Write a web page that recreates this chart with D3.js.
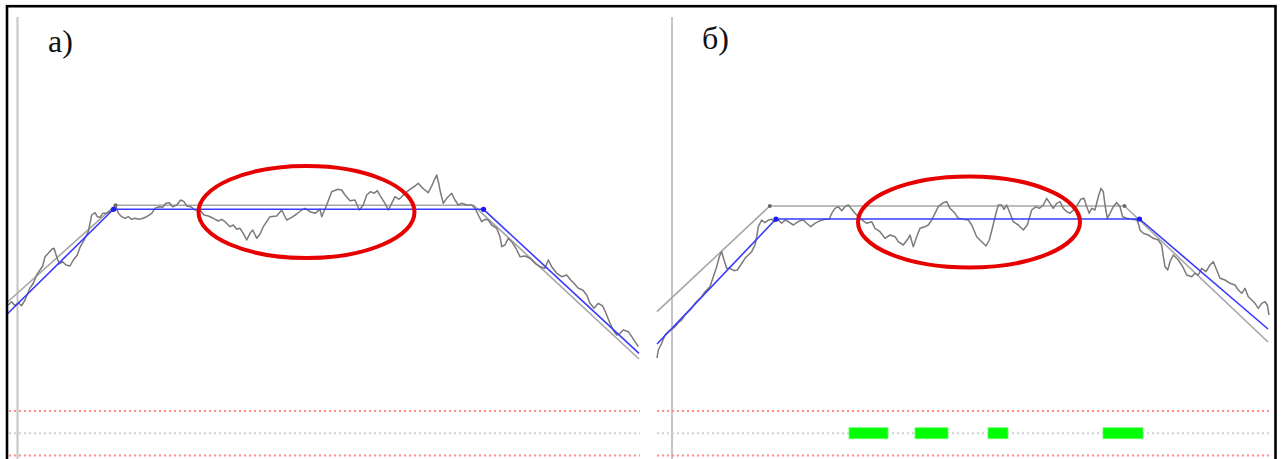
<!DOCTYPE html>
<html>
<head>
<meta charset="utf-8">
<script src="https://cdn.jsdelivr.net/npm/d3@7"></script>
<style>
  html, body { margin: 0; padding: 0; background: #fff; }
  svg { display: block; }
</style>
</head>
<body>
<svg id="chart" width="1281" height="459"></svg>
<script>
// ---- data: time (samples) and amplitude ----
const panelLabels = ["а)", "б)"];

// Panel a: measured signal
const signalA = [
  [1.3,55],[4.7,58.3],[8,54.3],[11.3,57.3],[14.7,54.3],[18,60],[23,72],[26.3,76.7],[29.7,85],[33,90],
  [35.7,94],[38,103.3],[41.3,106.7],[44.7,110.7],[47,111.7],[49.7,103.3],[52.3,96],[55.7,98.3],[59,95],[63,94],
  [66.3,100],[70.3,105],[73,112.7],[78,121.7],[81.3,128.3],[83,136.7],[84.7,145],[88,147.3],[90.3,143.3],[93,142.7],
  [95.7,146.7],[99,146.7],[102.3,148.3],[105.7,150],[109,153.3],[111.3,146.7],[114.7,143.3],[118,141.7],[121.3,143.3],[124.7,140.7],
  [128,141.7],[131.3,140.7],[134.7,141.3],[139.7,143.3],[144.7,146.7],[148,151.7],[152.3,153.3],[155.7,152.7],[159,156.7],[162.3,157.3],
  [165.7,153.3],[169.7,155],[173.7,160],[177,158.3],[179.7,154],[183.7,153.3],[188,150],[193,150],[197,145],[201.3,144],
  [206.3,141.7],[211.3,139],[214.7,140.7],[218,138.3],[223,133.3],[226.3,135],[229.7,130.7],[233,131.7],[236.3,126.7],[239.7,120],
  [243,126.7],[245.7,130],[249.7,121.7],[253,126],[256.3,133.3],[259.7,138.3],[263,143.3],[269.7,144],[274.7,150],[279.7,140],
  [284.7,142.7],[289.7,146],[294.7,150],[298,151.7],[303,148.3],[308,146.7],[313,150.7],[314.7,143.3],[319.7,155],[324.7,168.3],
  [330.7,170.7],[334.7,170],[338,165],[343,159.3],[348,160],[352.3,150],[356.3,155],[359.7,165],[363.7,168.3],[367,166.7],
  [370.3,169.3],[373.7,163.3],[378,156.7],[381.3,150],[384.7,156.7],[388,163.3],[392,160.7],[394.7,163.3],[398,166.7],[403,170.7],
  [408,174],[411.3,176.7],[414.7,172.7],[418,170],[421.3,167.3],[424.7,174],[427.3,180],[429.7,185],[431.7,176.7],[433.7,166.7],
  [436.3,156.7],[439.7,161.7],[444.7,166.7],[448,160],[451.3,155],[454.7,156.7],[459.7,155],[464.7,155],[468,151.7],[471.3,145],
  [474.7,138.3],[478,140.7],[481.3,140],[484.7,135],[489.7,131.7],[493,123.3],[494.7,113.3],[498,115],[501.3,121.7],[504.7,118.3],
  [509,111.7],[513,103.3],[518,104],[523,101.7],[528,96.7],[533,93.3],[538,91.7],[541.3,100],[544.7,93.3],[549.7,86.7],
  [554.7,83.3],[559.7,85],[563.7,80],[567,76.7],[571.3,71.7],[575.7,70],[579.7,65],[583,56.7],[587,51.7],[591.3,56.7],
  [595.7,54],[599,46.7],[603,36.7],[606.3,30],[609.7,25],[613,26.7],[616.3,30],[621.3,28.3],[624.7,23.3],[628,18.3],[631.3,13.3]
];
// Panel a: reference trapezoid and fitted trapezoid (vertices)
const idealA = [[0,57.5],[108.5,154.7],[466.5,154.7],[632,1]];
const fitA   = [[0,45.7],[106.5,150.7],[476.5,150.7],[632,6.7]];

// Panel b: measured signal
const signalB = [
  [0,2],[1.3,10],[4.7,16.7],[8,25],[11.3,28.3],[14.7,30.7],[18,33.3],[21.3,37.3],[24.7,40],[28,45],
  [31.3,48.3],[34.7,51.7],[38,56.7],[41.3,60],[44.7,63.3],[48,68.3],[53,73.3],[56.3,83.3],[59.7,93.3],[62.3,103.3],
  [64.7,108.3],[67,100],[69.7,91.7],[73,91.7],[77,89.3],[80.3,90],[83.7,95],[88,101.7],[91.3,105],[94.7,108.3],
  [98,115],[99.7,123.3],[101.3,133.3],[104.7,140],[108,137.3],[111.3,140],[114.7,140.7],[118,138.3],[121.3,140],[124.7,136.7],
  [128,140],[131.3,138.3],[136.3,135],[139.7,137.3],[143,139.3],[146.3,140],[149.7,136.7],[153.7,133.3],[158,136.7],[163,139.3],
  [168,140.7],[172.3,140.7],[174.7,146.7],[178,151.7],[181.3,153.3],[184.7,149.3],[188,153.3],[191.3,155],[198,146.7],[203,141.7],
  [209.7,136.7],[214.7,138.3],[218,131.7],[223,128.3],[228,121.7],[233,125],[238,123.3],[241.3,118.3],[246.3,115],[251.3,121.7],
  [253,125],[256.3,113.3],[259.7,123.3],[263,131.7],[268,133.3],[271.3,135],[274.7,140],[278,146.7],[281.3,153.3],[286.3,157.3],
  [289.7,158.3],[293,151.7],[298,146.7],[301.3,141.7],[306.3,140.7],[311.3,140],[314.7,135],[319.7,123.3],[324.7,118.3],[329,114],
  [332.3,120],[335.7,133.3],[339,146.7],[341.3,155],[344.7,155],[347,150.7],[349.7,155],[353,146.7],[356.3,138.3],[361.3,135],
  [366.3,130],[370.3,135],[374.7,150],[379,153.3],[382.3,151.7],[386.3,155],[389.7,161.7],[393,156.7],[396.3,151.7],[399.7,156.7],
  [403,158.3],[406.3,151.7],[409.7,148.3],[413,146.7],[416.3,150],[420.3,155],[423.7,160.7],[427,161.7],[429.7,153.3],[432.3,146.7],
  [434.7,151.7],[438,150],[441.3,163.3],[444,171.7],[446.3,168.3],[448,155],[450.3,141.7],[453,146.7],[456.3,153.3],[459.7,157.5],
  [463,153.3],[465.7,143.3],[469.7,141.7],[474.7,140.7],[479.7,140],[481.3,136.7],[483,130],[486.3,126.7],[491.3,125],[496.3,121.7],
  [501.3,120],[504.7,115],[506.3,103.3],[508,93.3],[510.7,90],[513,98.3],[516.3,105],[521.3,100],[525.7,93.3],[529.7,85],
  [534.7,83.3],[538,86.7],[541.3,85],[544.7,91.7],[549,88.3],[553,95],[556.3,98.3],[559.7,90],[563,81.7],[568,80],
  [573,76.7],[578,75],[581.3,70],[584.7,66.7],[588,71.7],[591.3,63.3],[594.7,60],[598,56.7],[601.3,51.7],[604.7,56.7],
  [608,58.3],[610.3,55],[612,45]
];
// Panel b: reference trapezoid and fitted trapezoid (vertices)
const idealB = [[0,48.3],[112.8,154],[467.5,154],[611,18]];
const fitB   = [[0,16],[119,141],[482.5,141],[611,31]];

// Highlighted deviation regions: [centre time, centre amplitude, half-width, half-height]
const regionA = [299.5, 148, 108, 46];
const regionB = [312, 138, 111, 45.5];

// Detector output strip: intervals flagged as deviations (panel b only)
const flagsA = [];
const flagsB = [[192,231],[258,291],[331,351],[446,486]];
// Strip levels: upper threshold, zero line, lower threshold
const stripLevels = [1, 0, -1];

// ---- layout ----
const svg = d3.select("#chart");
const W = 1281, H = 459;
svg.append("rect").attr("width", W).attr("height", H).attr("fill", "#fff");

const yAmp = d3.scaleLinear().domain([0, 200]).range([360, 160]);
const yStrip = d3.scaleLinear().domain([-1, 1]).range([455.5, 411]);

const panels = [
  { label: panelLabels[0], x: d3.scaleLinear().domain([0, 632]).range([7, 639]),
    axisT: 10.5, signal: signalA, ideal: idealA, fit: fitA, region: regionA, flags: flagsA,
    stripT: [2, 633], labelPos: [48, 52], dotIdeal: [1], dotFit: [1, 2] },
  { label: panelLabels[1], x: d3.scaleLinear().domain([0, 614]).range([657, 1271]),
    axisT: 15, signal: signalB, ideal: idealB, fit: fitB, region: regionB, flags: flagsB,
    stripT: [0, 614], labelPos: [702, 49], dotIdeal: [1, 2], dotFit: [1, 2] }
];

panels.forEach(p => {
  const g = svg.append("g");
  const x = p.x;

  // vertical axis line
  g.append("line")
    .attr("x1", x(p.axisT)).attr("x2", x(p.axisT))
    .attr("y1", 17).attr("y2", H)
    .attr("stroke", "#c4c4c4").attr("stroke-width", 2);

  // panel label
  g.append("text")
    .attr("x", p.labelPos[0]).attr("y", p.labelPos[1])
    .attr("font-family", "'Liberation Serif', 'Times New Roman', serif")
    .attr("font-size", 32).attr("fill", "#111")
    .text(p.label);

  // strip lines
  stripLevels.forEach(lv => {
    g.append("line")
      .attr("x1", x(p.stripT[0])).attr("x2", x(p.stripT[1]))
      .attr("y1", yStrip(lv)).attr("y2", yStrip(lv))
      .attr("stroke", lv === 0 ? "#cfcfcf" : "#ff8c8c")
      .attr("stroke-width", 2)
      .attr("stroke-dasharray", "2,3");
  });

  // flagged intervals
  g.selectAll("rect.flag").data(p.flags).join("rect")
    .attr("class", "flag")
    .attr("x", d => x(d[0]))
    .attr("width", d => x(d[1]) - x(d[0]))
    .attr("y", yStrip(0) - 5.5).attr("height", 11)
    .attr("fill", "#00ff00").attr("stroke", "#66ff66").attr("stroke-width", 0.8);

  const line = d3.line().x(d => x(d[0])).y(d => yAmp(d[1]));

  // reference trapezoid
  g.append("path").datum(p.ideal).attr("d", line)
    .attr("fill", "none").attr("stroke", "#a6a6a6").attr("stroke-width", 1.6);

  // measured signal
  g.append("path").datum(p.signal).attr("d", line)
    .attr("fill", "none").attr("stroke", "#7a7a7a").attr("stroke-width", 1.5)
    .attr("stroke-linejoin", "round");

  // fitted trapezoid
  g.append("path").datum(p.fit).attr("d", line)
    .attr("fill", "none").attr("stroke", "#3a3aff").attr("stroke-width", 1.6);

  // vertex markers
  g.selectAll("circle.vi").data(p.dotIdeal.map(i => p.ideal[i])).join("circle")
    .attr("class", "vi").attr("cx", d => x(d[0])).attr("cy", d => yAmp(d[1]))
    .attr("r", 2).attr("fill", "#6a6a6a");
  g.selectAll("circle.vf").data(p.dotFit.map(i => p.fit[i])).join("circle")
    .attr("class", "vf").attr("cx", d => x(d[0])).attr("cy", d => yAmp(d[1]))
    .attr("r", 2.6).attr("fill", "#1a1aff");

  // highlighted region
  const [ct, ca, rt, ra] = p.region;
  g.append("ellipse")
    .attr("cx", x(ct)).attr("cy", yAmp(ca))
    .attr("rx", x(ct + rt) - x(ct)).attr("ry", yAmp(ca - ra) - yAmp(ca))
    .attr("fill", "none").attr("stroke", "#e60000").attr("stroke-width", 4);
});

// outer frame
svg.append("rect")
  .attr("x", 7).attr("y", 6.2).attr("width", 1268.5).attr("height", 480)
  .attr("fill", "none").attr("stroke", "#000").attr("stroke-width", 2.6);
</script>
</body>
</html>
